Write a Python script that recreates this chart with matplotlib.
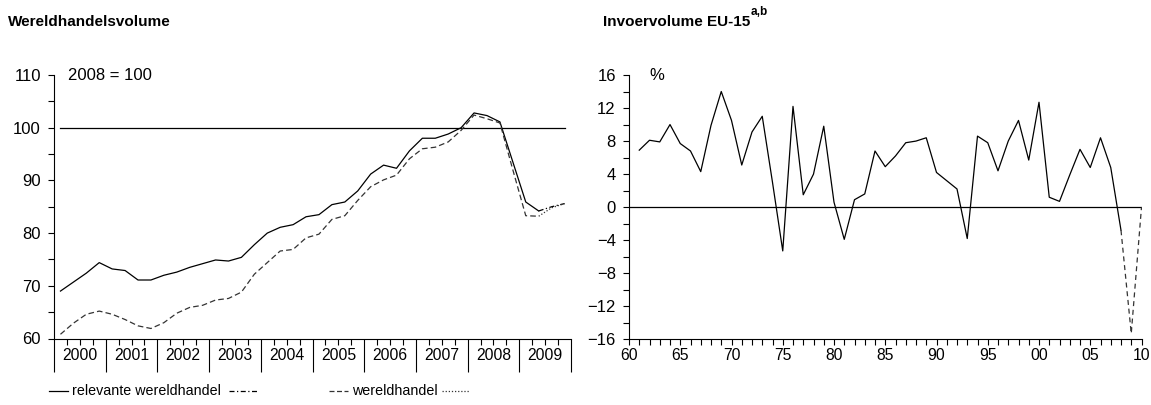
import matplotlib
matplotlib.use("Agg")
import matplotlib.pyplot as plt
from matplotlib.lines import Line2D
from matplotlib.transforms import blended_transform_factory
import numpy as np

plt.rcParams['font.family'] = ['Liberation Sans', 'DejaVu Sans']

# ---- Wereldhandelsvolume: quarterly index 2008 = 100, 2000Q1 .. 2009Q4 ----
years = [2000, 2001, 2002, 2003, 2004, 2005, 2006, 2007, 2008, 2009]
relevante = [69.0, 70.7, 72.4, 74.4, 73.2, 72.9, 71.1, 71.1,
             72.0, 72.6, 73.5, 74.2, 74.9, 74.7, 75.4, 77.8,
             80.0, 81.1, 81.6, 83.1, 83.5, 85.4, 85.9, 88.0,
             91.2, 92.9, 92.3, 95.6, 98.0, 98.0, 98.8, 100.0,
             102.8, 102.3, 101.1, 93.5, 85.9, 84.2]
relevante_raming = [84.2, 85.0, 85.6]
wereld = [60.8, 62.9, 64.6, 65.2, 64.6, 63.6, 62.4, 61.9,
          63.0, 64.8, 65.9, 66.3, 67.3, 67.6, 68.8, 72.2,
          74.4, 76.6, 76.9, 79.1, 79.8, 82.6, 83.3, 86.2,
          88.8, 90.1, 91.0, 94.1, 96.0, 96.3, 97.3, 99.5,
          102.4, 101.7, 100.9, 92.0, 83.3, 83.2]
wereld_raming = [83.2, 84.8, 85.6]
basis = 100

# ---- Invoervolume EU-15: annual % change, 1961 .. 2010 ----
jaren = list(range(1961, 2009))
invoer = [6.9, 8.1, 7.9, 10.0, 7.7, 6.8, 4.3, 9.9, 14.0, 10.5,
          5.1, 9.1, 11.0, 3.0, -5.3, 12.2, 1.5, 4.0, 9.8, 0.6,
          -3.9, 0.9, 1.6, 6.8, 4.9, 6.2, 7.8, 8.0, 8.4, 4.2,
          3.2, 2.2, -3.8, 8.6, 7.8, 4.4, 8.0, 10.5, 5.7, 12.7,
          1.2, 0.7, 3.9, 7.0, 4.8, 8.4, 4.8, -2.8]
jaren_raming = [2008, 2009, 2010]
invoer_raming = [-2.8, -15.3, 0.0]

W, H = 1151, 405
fig = plt.figure(figsize=(W / 100, H / 100), dpi=100)

def frac_box(x0, x1, ytop, ybot):
    return [x0 / W, 1 - ybot / H, (x1 - x0) / W, (ybot - ytop) / H]

lw = 0.9
tick_fs = 12
title_family = ['Liberation Sans Narrow', 'Liberation Sans', 'DejaVu Sans']

# ================= left panel =================
ax1 = fig.add_axes(frac_box(54, 571, 75, 338.5))
n = len(years) * 4
xq = np.arange(len(relevante)) + 0.5
xr = np.arange(len(relevante) - 1, len(relevante) - 1 + len(relevante_raming)) + 0.5

ax1.plot([0.5, n - 0.5], [basis, basis], color='black', lw=lw)
ax1.plot(xq, relevante, color='black', lw=lw)
ax1.plot(xr, relevante_raming, color='black', lw=lw, dashes=(4, 2, 1, 2))
ax1.plot(np.arange(len(wereld)) + 0.5, wereld, color='#333333', lw=lw, dashes=(4.5, 2.5))
ax1.plot(xr, wereld_raming, color='#333333', lw=lw, dashes=(1, 1.5))

ax1.set_xlim(0, n)
ax1.set_ylim(60, 110)
ax1.set_yticks(np.arange(60, 111, 10))
ax1.set_yticks(np.arange(65, 110, 10), minor=True)
ax1.tick_params(axis='y', which='both', direction='out', length=4.5, width=0.8,
                labelsize=tick_fs, pad=5)
ax1.set_xticks(np.arange(0, n + 1, 4))
ax1.set_xticks([q for q in range(n) if q % 4], minor=True)
ax1.tick_params(axis='x', which='major', direction='out', length=23.5, width=0.8,
                labelbottom=False)
ax1.tick_params(axis='x', which='minor', direction='out', length=4.5, width=0.8)
for s in ('top', 'right'):
    ax1.spines[s].set_visible(False)
for s in ('left', 'bottom'):
    ax1.spines[s].set_linewidth(0.8)

tr = blended_transform_factory(ax1.transData, ax1.transAxes)
for i, yr in enumerate(years):
    ax1.text(4 * i + 2, -0.065, str(yr), transform=tr, ha='center', va='center',
             fontsize=11.3)

ax1.text(0.027, 1.0, '2008 = 100', transform=ax1.transAxes, ha='left', va='center',
         fontsize=12)

fig.text(8 / W, 1 - 22 / H, 'Wereldhandelsvolume', ha='left', va='center',
         fontsize=11, fontweight='bold', family=title_family)

# legend row
ly = 1 - 391 / H
leg = [
    (49, 68, dict(color='black'), 72, 'relevante wereldhandel', 229, 258, dict(color='black', dashes=(4, 2, 1, 2))),
    (329, 348, dict(color='#333333', dashes=(4, 2)), 352, 'wereldhandel', 442, 470, dict(color='#333333', dashes=(1, 1.5))),
]
for a0, a1, st1, tx, label, b0, b1, st2 in leg:
    fig.add_artist(Line2D([a0 / W, a1 / W], [ly, ly], lw=lw, **st1))
    fig.text(tx / W, ly, label, ha='left', va='center', fontsize=10.3)
    fig.add_artist(Line2D([b0 / W, b1 / W], [ly, ly], lw=lw, **st2))

# ================= right panel =================
ax2 = fig.add_axes(frac_box(629, 1141.5, 75, 339.3))
ax2.axhline(0, color='black', lw=lw)
ax2.plot(jaren, invoer, color='black', lw=lw)
ax2.plot(jaren_raming, invoer_raming, color='#333333', lw=lw, dashes=(4, 3))

ax2.set_xlim(1960, 2010)
ax2.set_ylim(-16, 16)
ax2.set_yticks(np.arange(-16, 17, 4))
ax2.set_yticks(np.arange(-14, 16, 4), minor=True)
ax2.tick_params(axis='y', which='both', direction='out', length=4.5, width=0.8,
                labelsize=tick_fs, pad=5)
ax2.set_xticks(np.arange(1960, 2011, 5))
ax2.set_xticklabels([f'{y % 100:02d}' for y in range(1960, 2011, 5)])
ax2.set_xticks(np.arange(1960, 2011, 1), minor=True)
ax2.tick_params(axis='x', which='both', direction='out', length=4.5, width=0.8,
                labelsize=11.3, pad=2)
for s in ('top', 'right'):
    ax2.spines[s].set_visible(False)
for s in ('left', 'bottom'):
    ax2.spines[s].set_linewidth(0.8)

ax2.text(0.04, 1.0, '%', transform=ax2.transAxes, ha='left', va='center',
         fontsize=12)

t2 = fig.text(603 / W, 1 - 22 / H, 'Invoervolume EU-15', ha='left', va='center',
              fontsize=11, fontweight='bold', family=title_family)
ax2.annotate('a,b', xy=(1, 1), xycoords=t2, xytext=(0.5, 2), textcoords='offset points',
             ha='left', va='center', fontsize=8.5, fontweight='bold',
             family=title_family, annotation_clip=False)

fig.savefig('out.png', dpi=100)
